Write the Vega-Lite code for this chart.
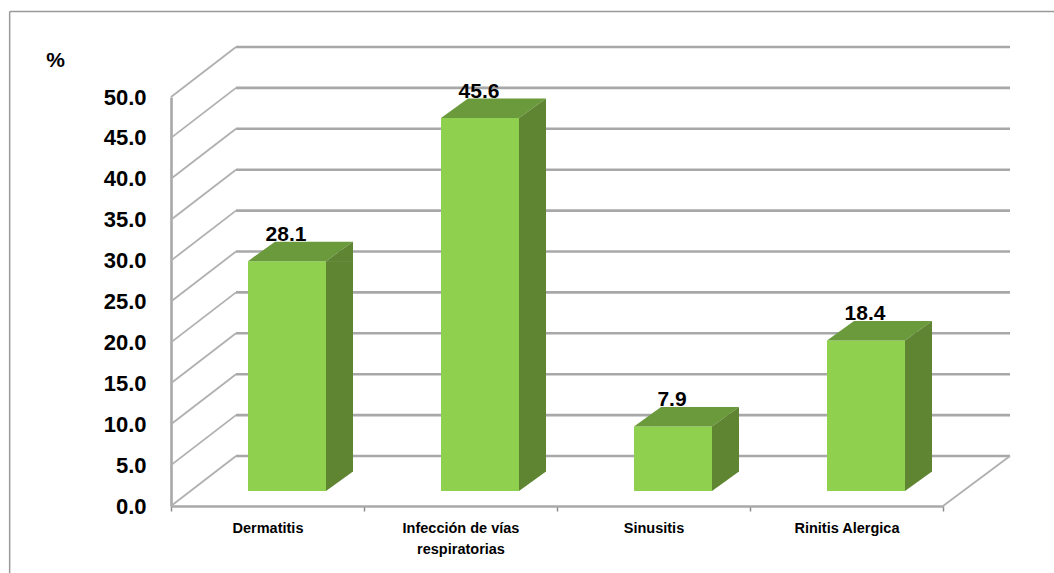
{
"$schema":"https://vega.github.io/schema/vega-lite/v6.json",
"width":772,"height":409,
"autosize":"none",
"padding":{"left":171,"top":97,"right":111,"bottom":67},
"background":"white",
"config":{"view":{"stroke":null}},
"datasets":{
"barras":[
{"Padecimiento":"Dermatitis","Porcentaje":28.1},
{"Padecimiento":"Infección de vías respiratorias","Porcentaje":45.6},
{"Padecimiento":"Sinusitis","Porcentaje":7.9},
{"Padecimiento":"Rinitis Alergica","Porcentaje":18.4}],
"niveles":[{"nivel":0},{"nivel":5},{"nivel":10},{"nivel":15},{"nivel":20},{"nivel":25},{"nivel":30},{"nivel":35},{"nivel":40},{"nivel":45},{"nivel":50}],
"marco":[{"id":"marco"}]
},
"layer":[
{"data":{"name":"marco"},
 "mark":{"type":"rule","stroke":"#9a9a9a","strokeWidth":1.5},
 "encoding":{"x":{"datum":-0.209,"type":"quantitative","scale":{"domain":[0,1]},"axis":null},"x2":{"datum":1.2},
 "y":{"datum":60.45,"type":"quantitative","scale":{"domain":[0,50]}},"y2":{"datum":60.45}}},
{"data":{"name":"marco"},
 "mark":{"type":"rule","stroke":"#9a9a9a","strokeWidth":1.5},
 "encoding":{"x":{"datum":-0.209,"type":"quantitative","scale":{"domain":[0,1]},"axis":null},"x2":{"datum":-0.209},
 "y":{"datum":60.45,"type":"quantitative","scale":{"domain":[0,50]}},"y2":{"datum":-9}}},
{"data":{"name":"niveles"},
 "mark":{"type":"rule","stroke":"#b0b0b0","strokeWidth":1.8,"x2Offset":65,"y2Offset":-50},
 "encoding":{"x":{"datum":0,"type":"quantitative","scale":{"domain":[0,1]},"axis":null},"x2":{"datum":0},
 "y":{"field":"nivel","type":"quantitative","scale":{"domain":[0,50]}},"y2":{"field":"nivel"}}},
{"data":{"name":"niveles"},
 "mark":{"type":"rule","stroke":"#a8a8a8","strokeWidth":2.6,"xOffset":65,"x2Offset":67,"yOffset":-50},
 "encoding":{"x":{"datum":0,"type":"quantitative","scale":{"domain":[0,1]},"axis":null},"x2":{"datum":1},
 "y":{"field":"nivel","type":"quantitative","scale":{"domain":[0,50]}}}},
{"data":{"name":"marco"},
 "mark":{"type":"rule","stroke":"#b0b0b0","strokeWidth":1.8,"x2Offset":67,"y2Offset":-50},
 "encoding":{"x":{"datum":1,"type":"quantitative","scale":{"domain":[0,1]},"axis":null},"x2":{"datum":1},
 "y":{"datum":0,"type":"quantitative","scale":{"domain":[0,50]}},"y2":{"datum":0}}},
{"data":{"name":"barras"},
 "mark":{"type":"bar","fill":"#8fd14f","width":78,"xOffset":19.5,"yOffset":-15,"y2Offset":-15},
 "encoding":{
 "x":{"field":"Padecimiento","type":"nominal","sort":null,"title":null,
  "scale":{"paddingInner":0,"paddingOuter":0},
  "axis":{"domainColor":"#a8a8a8","domainWidth":2.6,"tickBand":"extent","tickColor":"#8c8c8c","tickSize":5,"tickWidth":1.5,"labelAngle":0,"labelFont":"Liberation Sans","labelFontWeight":"bold","labelFontSize":14.5,"labelColor":"#000000","labelPadding":10,"labelLimit":0,"labelOverlap":false,"labelLineHeight":21,
  "labelExpr":"datum.value == 'Infección de vías respiratorias' ? ['Infección de vías','respiratorias'] : datum.label"}},
 "y":{"field":"Porcentaje","type":"quantitative","scale":{"domain":[0,50]},
  "axis":{"values":[0,5,10,15,20,25,30,35,40,45,50],"format":".1f","grid":false,"ticks":false,"domainColor":"#a8a8a8","domainWidth":2.6,"labelFont":"Liberation Sans","labelFontWeight":"bold","labelFontSize":22,"labelColor":"#000000","labelPadding":25,
  "title":"%","titleAngle":0,"titleFont":"Liberation Sans","titleFontWeight":"bold","titleFontSize":21,"titleColor":"#000000","titleX":-116,"titleY":-37,"titleAlign":"center","titleBaseline":"middle"}},
 "y2":{"datum":0}}},
{"data":{"name":"barras"},
 "mark":{"type":"point","filled":true,"fill":"#6a9a3c","opacity":1,"strokeWidth":0,"size":4,"xOffset":19.5,"yOffset":-15,"shape":"M-39,0L39,0L66,-19.5L-12,-19.5Z"},
 "encoding":{"x":{"field":"Padecimiento","type":"nominal","sort":null,"axis":null,"scale":{"paddingInner":0,"paddingOuter":0}},
 "y":{"field":"Porcentaje","type":"quantitative","scale":{"domain":[0,50]}}}},
{"data":{"name":"barras"},
 "mark":{"type":"bar","fill":"#5f8532","width":27,"xOffset":72,"yOffset":-15,"y2Offset":-34.5},
 "encoding":{"x":{"field":"Padecimiento","type":"nominal","sort":null,"axis":null,"scale":{"paddingInner":0,"paddingOuter":0}},
 "y":{"field":"Porcentaje","type":"quantitative","scale":{"domain":[0,50]}},"y2":{"datum":0}}},
{"data":{"name":"barras"},
 "mark":{"type":"point","filled":true,"fill":"#5f8532","opacity":1,"strokeWidth":0,"size":4,"xOffset":19.5,"yOffset":-15,"shape":"M39,0L66,-19.5L66,0.5L39,0.5Z"},
 "encoding":{"x":{"field":"Padecimiento","type":"nominal","sort":null,"axis":null,"scale":{"paddingInner":0,"paddingOuter":0}},
 "y":{"field":"Porcentaje","type":"quantitative","scale":{"domain":[0,50]}}}},
{"data":{"name":"barras"},
 "mark":{"type":"point","filled":true,"fill":"#5f8532","opacity":1,"strokeWidth":0,"size":4,"xOffset":19.5,"yOffset":-15,"shape":"M39,0L39,-20L66,-20L66,-19.5Z"},
 "encoding":{"x":{"field":"Padecimiento","type":"nominal","sort":null,"axis":null,"scale":{"paddingInner":0,"paddingOuter":0}},
 "y":{"datum":0,"type":"quantitative","scale":{"domain":[0,50]}}}},
{"data":{"name":"barras"},
 "mark":{"type":"text","font":"Liberation Sans","fontWeight":"bold","fontSize":21,"color":"#000000","xOffset":18.5,"yOffset":-41,"baseline":"middle","align":"center"},
 "encoding":{"x":{"field":"Padecimiento","type":"nominal","sort":null,"axis":null,"scale":{"paddingInner":0,"paddingOuter":0}},
 "y":{"field":"Porcentaje","type":"quantitative","scale":{"domain":[0,50]}},
 "text":{"field":"Porcentaje","type":"quantitative","format":".1f"}}}
],
"resolve":{"scale":{"x":"independent"},"axis":{"x":"independent"}}
}
